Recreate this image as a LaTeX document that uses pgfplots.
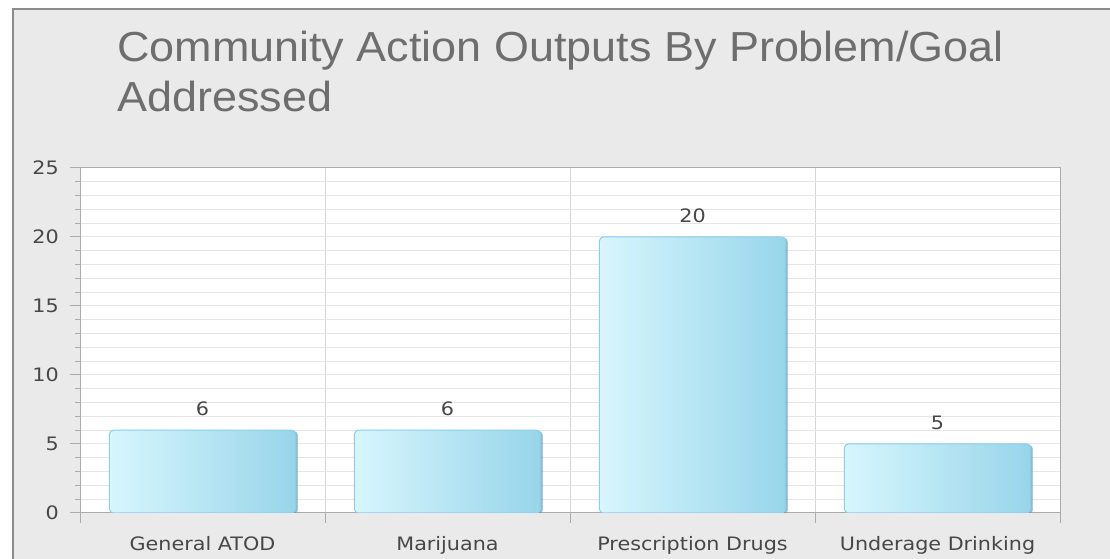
\documentclass[border=0pt]{standalone}
\usepackage{pgfplots}
\pgfplotsset{compat=1.18}
\usepackage{fontspec}
\usetikzlibrary{shadows}
\setmainfont{Liberation Sans}
\newfontfamily\titlefont[FakeStretch=1.07]{Liberation Sans}
\newfontfamily\tickfont[FakeStretch=1.12]{DejaVu Sans}
\definecolor{bgside}{HTML}{EAEAEA}
\definecolor{bgmid}{HTML}{F5F5F5}
\definecolor{panelborder}{HTML}{8C8C8C}
\definecolor{titlegray}{HTML}{6E6E6E}
\definecolor{ticktext}{HTML}{474747}
\definecolor{hgrid}{HTML}{E6E6E6}
\definecolor{vgrid}{HTML}{D6D6D6}
\definecolor{axisgray}{HTML}{ABABAB}
\definecolor{barL}{HTML}{D7F6FD}
\definecolor{barM}{HTML}{C0ECF8}
\definecolor{barR}{HTML}{98D5EA}
\definecolor{barEdge}{HTML}{8CCDEB}
\begin{document}
\begin{tikzpicture}[x=1bp,y=1bp]
\useasboundingbox (0,0) rectangle (1110,559);
\fill[white] (0,0) rectangle (1110,559);
\shade[left color=bgside, middle color=bgmid, right color=bgside] (13,0) rectangle (1110,550);
\draw[panelborder, line width=1.5bp] (13,0) -- (13,550) -- (1110,550);
\node[anchor=base west, inner sep=0pt, text=titlegray, font=\titlefont\fontsize{42bp}{50bp}\selectfont] at (117,497) {Community Action Outputs By Problem/Goal};
\node[anchor=base west, inner sep=0pt, text=titlegray, font=\titlefont\fontsize{42bp}{50bp}\selectfont] at (117,447) {Addressed};
\begin{axis}[
  at={(80bp,46bp)}, anchor=south west,
  scale only axis, width=980bp, height=345bp,
  xmin=-0.5, xmax=3.5, ymin=0, ymax=25,
  axis background/.style={fill=white},
  ytick={0,5,10,15,20,25},
  minor y tick num=4,
  xtick={-0.5,0.5,1.5,2.5,3.5},
  xticklabels={},
  extra x ticks={0,1,2,3},
  extra x tick labels={General ATOD,Marijuana,Prescription Drugs,Underage Drinking},
  extra x tick style={major tick length=0pt, grid=none, tick style={draw=none}},
  ymajorgrids, yminorgrids, xmajorgrids,
  y grid style={draw=hgrid, line width=1bp},
  x grid style={draw=vgrid, line width=1bp},
  tick align=outside,
  major tick length=10bp, minor tick length=5bp,
  xtick pos=bottom, ytick pos=left,
  tick style={draw=axisgray, line width=1bp},
  axis line style={draw=axisgray, line width=1bp},
  /pgf/number format/assume math mode=true,
  ticklabel style={font=\tickfont\fontsize{18.5bp}{22bp}\selectfont, text=ticktext},
  yticklabel style={inner sep=0pt, xshift=-11bp},
  xticklabel style={inner sep=0pt, yshift=-23bp},
  barstyle/.style={ybar, bar shift=0pt, bar width=0.76, draw=barEdge, line width=1bp,
    left color=barL, middle color=barM, right color=barR, rounded corners=4bp,
    drop shadow={shadow xshift=2bp, shadow yshift=-1bp, fill=black, opacity=0.35},
    nodes near coords,
    every node near coord/.append style={font=\tickfont\fontsize{18.5bp}{22bp}\selectfont, text=ticktext, inner sep=0pt, yshift=14bp}},
]
\addplot[barstyle] coordinates {(0,6)};
\addplot[barstyle] coordinates {(1,6)};
\addplot[barstyle] coordinates {(2,20)};
\addplot[barstyle] coordinates {(3,5)};
\end{axis}
\end{tikzpicture}
\end{document}
